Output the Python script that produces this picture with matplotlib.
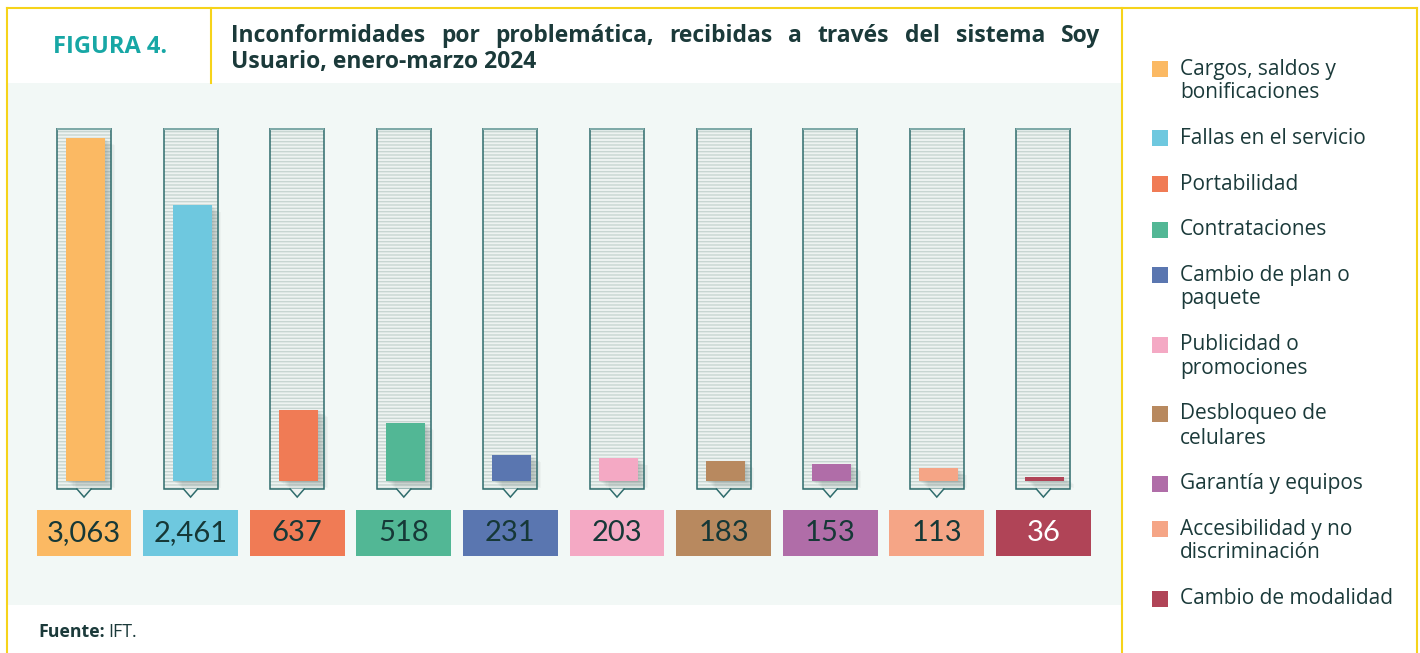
import matplotlib
matplotlib.use('Agg')
import matplotlib.pyplot as plt
from matplotlib.patches import Rectangle, Polygon

# Datos de la figura
categorias = ['Cargos, saldos y\nbonificaciones', 'Fallas en el servicio', 'Portabilidad',
              'Contrataciones', 'Cambio de plan o\npaquete', 'Publicidad o\npromociones',
              'Desbloqueo de\ncelulares', 'Garantía y equipos',
              'Accesibilidad y no\ndiscriminación', 'Cambio de modalidad']
valores = [3063, 2461, 637, 518, 231, 203, 183, 153, 113, 36]
etiquetas = ['3,063', '2,461', '637', '518', '231', '203', '183', '153', '113', '36']
colores = ['#FBB963', '#6EC8DF', '#F07B55', '#52B795', '#5A76B0',
           '#F4A9C4', '#B8895F', '#B06DA8', '#F5A586', '#B04457']
color_texto = ['#163837'] * 9 + ['#FFFFFF']

titulo_1 = 'Inconformidades por problemática, recibidas a través del sistema Soy'
titulo_2 = 'Usuario, enero-marzo 2024'

W, H = 1420, 653
FONT = 'Open Sans'
OSCURO = '#1B3A3A'
AMARILLO = '#F6D31A'

plt.rcParams['font.family'] = [FONT, 'DejaVu Sans']
plt.rcParams['hatch.linewidth'] = 1.0

fig = plt.figure(figsize=(W / 100, H / 100), dpi=100)
fig.patch.set_facecolor('white')


def fx(px):
    return px / W


def fy(py):
    return 1 - py / H


# fondo verde claro del panel
fig.patches.append(Rectangle((fx(8), fy(605)), fx(1122) - fx(8), fy(83) - fy(605),
                             transform=fig.transFigure, facecolor='#F2F8F6',
                             edgecolor='none', zorder=-2))

# marcos amarillos
for xs, ys in [((7, 1417), (8, 8)), ((7, 7), (8, 653)), ((211, 211), (8, 83)),
               ((1122, 1122), (8, 653)), ((1417, 1417), (8, 653))]:
    fig.add_artist(plt.Line2D([fx(xs[0]), fx(xs[1])], [fy(ys[0]), fy(ys[1])],
                              transform=fig.transFigure, color=AMARILLO, lw=1.5, zorder=-1))

# ejes de las barras
ax = fig.add_axes([fx(30.7), fy(560), fx(1096.7) - fx(30.7), fy(128) - fy(560)])
ax.set_xlim(-0.5, 9.5)
ax.set_ylim(-705, 3152)
ax.axis('off')

x = list(range(len(valores)))
tubo_top = 3152
tubo_bot = -71
tubo_w = 0.507
barra_w = 0.366
off = 0.014

# tubos rayados
ax.bar(x, tubo_top - tubo_bot, bottom=tubo_bot, width=tubo_w, color='#EEF3F1',
       hatch='-----', edgecolor='#C7D5D1', linewidth=0, zorder=1)

# sombra suave de las barras
for k in range(1, 10):
    ax.bar([i + off + k * 0.01 for i in x], valores, bottom=-k * 7, width=barra_w,
           color='#6E7E7A', alpha=0.05, linewidth=0, zorder=2)

# barras
ax.bar([i + off for i in x], valores, width=barra_w, color=colores, linewidth=0, zorder=3)

# contorno de los tubos
ax.bar(x, tubo_top - tubo_bot, bottom=tubo_bot, width=tubo_w, fill=False,
       edgecolor='#2F6C6C', linewidth=1.1, zorder=4)
ax.bar(x, 0, bottom=tubo_top - 8, width=tubo_w, fill=False,
       edgecolor='#7FAAA8', linewidth=1.6, zorder=4)

# puntas bajo los tubos
for i in x:
    tri = Polygon([(i - 0.066, tubo_bot + 4), (i + 0.066, tubo_bot + 4), (i, tubo_bot - 72)],
                  closed=True, facecolor='#EEF3F1', edgecolor='none', zorder=5)
    ax.add_patch(tri)
    ax.plot([i - 0.066, i, i + 0.066], [tubo_bot, tubo_bot - 72, tubo_bot],
            color='#2F6C6C', lw=1.1, zorder=6, solid_joinstyle='miter')

# cajas de valores
ax.bar(x, 411, bottom=-670, width=0.891, color=colores, linewidth=0, zorder=3)
for i, lab, tc in zip(x, etiquetas, color_texto):
    ax.text(i, -464, lab, ha='center', va='center', fontsize=21, color=tc, zorder=7,
            family=['Lato', 'DejaVu Sans'])

# leyenda
y_leg = 69
for cat, col in zip(categorias, colores):
    fig.patches.append(Rectangle((fx(1152), fy(y_leg + 8)), fx(16), 16 / H,
                                 transform=fig.transFigure, facecolor=col,
                                 edgecolor='none'))
    lineas = cat.split('\n')
    for j, ln in enumerate(lineas):
        fig.text(fx(1180), fy(y_leg + 24 * j), ln, ha='left', va='center',
                 fontsize=15, color=OSCURO, fontweight='medium')
    y_leg += 45.5 + 24 * (len(lineas) - 1)

# encabezado
fig.text(fx(110), fy(47), 'FIGURA 4.', ha='center', va='center', fontsize=17,
         fontweight='bold', color='#17A7A5')

renderer = fig.canvas.get_renderer()
palabras = titulo_1.split(' ')
objs = [fig.text(0, fy(36), p, ha='left', va='center', fontsize=16.5, fontweight='bold',
                 color=OSCURO) for p in palabras]
anchos = [o.get_window_extent(renderer).width for o in objs]
x0, x1 = 231, 1100
hueco = (x1 - x0 - sum(anchos)) / (len(palabras) - 1)
pos = x0
for o, a in zip(objs, anchos):
    o.set_x(fx(pos))
    pos += a + hueco
fig.text(fx(x0), fy(62), titulo_2, ha='left', va='center', fontsize=16.5,
         fontweight='bold', color=OSCURO)

# fuente
t = fig.text(fx(38), fy(632), 'Fuente:', ha='left', va='center', fontsize=12.8,
             fontweight='bold', color=OSCURO)
wt = t.get_window_extent(renderer).width
fig.text(fx(38 + wt + 4), fy(632), 'IFT.', ha='left', va='center', fontsize=12.8,
         color=OSCURO)

fig.savefig('out.png', dpi=100, facecolor='white')
